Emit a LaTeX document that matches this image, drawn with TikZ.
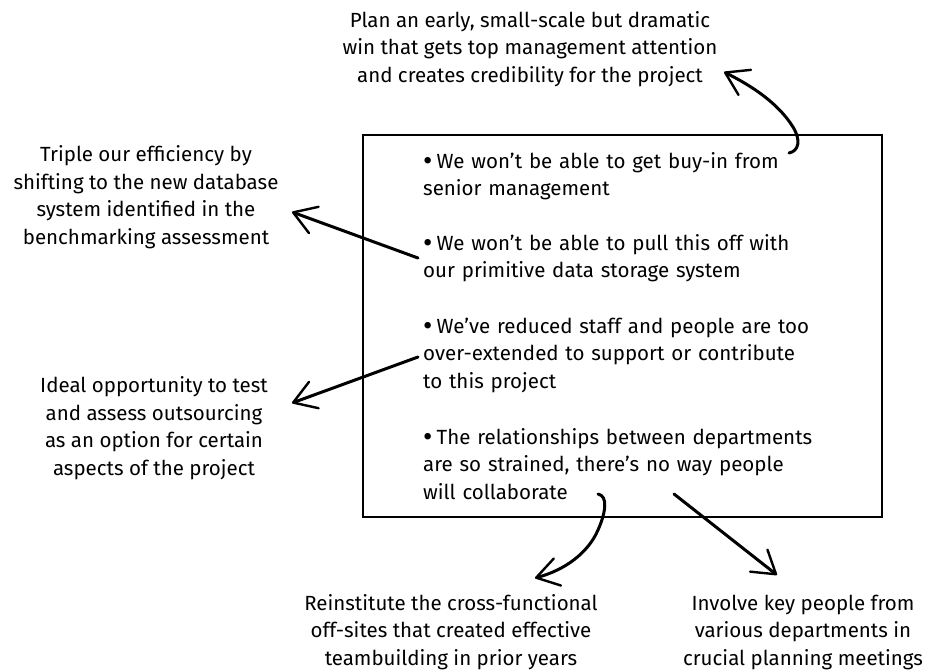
\documentclass[tikz,border=0pt]{standalone}
\usepackage{fontspec}
\setmainfont{Fira Sans}
\usetikzlibrary{arrows.meta}

\newcommand{\bul}{\hangindent=0.66em\hangafter=1\makebox[0.66em][l]{\raisebox{-0.1em}{\scalebox{1.4}{\textbullet}}}}

\begin{document}
\begin{tikzpicture}
	[x=1pt,y=-1pt,
	 note/.style={align=center,inner sep=0pt,font=\fontsize{20.5}{27.5}\selectfont},
	 item/.style={anchor=base west,text width=450pt,inner sep=0pt,font=\fontsize{20.5}{27.5}\selectfont},
	 brush/.style={line width=3pt,line cap=round,-{Straight Barb[length=22pt,width=28pt,line width=2.4pt,round]}}]

	\useasboundingbox (0,0) rectangle (930,672);

	% the box with the objections
	\draw[line width=1.8pt] (363,135) rectangle (882,517);

	\node[item] (buyin) at (423,168) {\bul We won't be able to get buy-in from\\senior management};
	\node[item] (storage) at (423,250) {\bul We won't be able to pull this off with\\our primitive data storage system};
	\node[item] (staff) at (423,333) {\bul We've reduced staff and people are too\\over-extended to support or contribute\\to this project};
	\node[item] (depts) at (423,444) {\bul The relationships between departments\\are so strained, there's no way people\\will collaborate};

	% the answers around it
	\node[note] (win) at (530,49) {Plan an early, small-scale but dramatic\\win that gets top management attention\\and creates credibility for the project};
	\node[note] (triple) at (146,197) {Triple our efficiency by\\shifting to the new database\\system identified in the\\benchmarking assessment};
	\node[note] (outsource) at (154,428) {Ideal opportunity to test\\and assess outsourcing\\as an option for certain\\aspects of the project};
	\node[note] (offsites) at (451,632) {Reinstitute the cross-functional\\off-sites that created effective\\teambuilding in prior years};
	\node[note] (involve) at (803,632) {Involve key people from\\various departments in\\crucial planning meetings};

	\coordinate (s1) at (789,153);
	\coordinate (t1) at (724,72);
	\coordinate (s2) at (418,258);
	\coordinate (t2) at (292,212);
	\coordinate (s3) at (418,357);
	\coordinate (t3) at (292,403);
	\coordinate (s4) at (598,494);
	\coordinate (t4) at (535,578);
	\coordinate (s5) at (674,494);
	\coordinate (t5) at (777,575);

	\draw[brush] (s1) .. controls (799,151) and (801,140) .. (793,127) .. controls (778,103) and (752,86) .. (t1);
	\draw[brush] (s2) -- (t2);
	\draw[brush] (s3) -- (t3);
	\draw[brush] (s4) .. controls (608,496) and (606,512) .. (598,530) .. controls (588,553) and (565,570) .. (t4);
	\draw[brush] (s5) -- (t5);
\end{tikzpicture}
\end{document}
